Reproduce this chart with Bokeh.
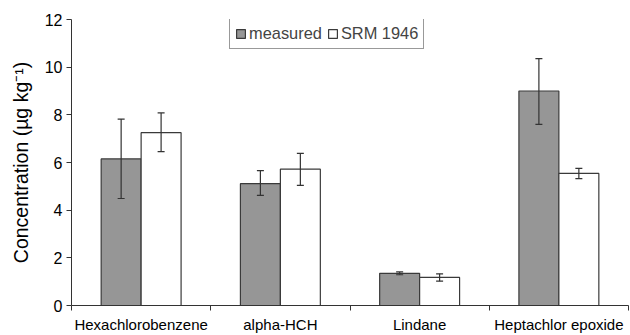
import numpy as np
from bokeh.plotting import figure
from bokeh.models import (ColumnDataSource, Range1d, FixedTicker, Whisker, TeeHead,
                          Legend, LegendItem)
from bokeh.embed import file_html
from bokeh.resources import INLINE

categories = ["Hexachlorobenzene", "alpha-HCH", "Lindane", "Heptachlor epoxide"]
measured = [6.15, 5.11, 1.35, 9.0]
measured_lo = [4.49, 4.62, 1.29, 7.6]
measured_hi = [7.82, 5.66, 1.41, 10.36]
srm = [7.25, 5.72, 1.18, 5.54]
srm_lo = [6.46, 5.04, 1.02, 5.32]
srm_hi = [8.08, 6.38, 1.33, 5.75]
y_ticks = [0, 2, 4, 6, 8, 10, 12]

FONT = "Liberation Sans"
idx = np.arange(len(categories)) + 0.5
bw = 0.287

src_m = ColumnDataSource(dict(x=idx - bw / 2, top=measured, lo=measured_lo, hi=measured_hi))
src_s = ColumnDataSource(dict(x=idx + bw / 2, top=srm, lo=srm_lo, hi=srm_hi))

p = figure(width=630, height=335, output_backend="svg", toolbar_location=None,
           x_range=Range1d(0, len(categories)), y_range=Range1d(0, 12),
           min_border_left=71, min_border_right=2, min_border_top=19, min_border_bottom=28)
p.outline_line_color = None
p.grid.visible = False
p.background_fill_color = "white"

r_m = p.vbar(x="x", top="top", width=bw, source=src_m, fill_color="#969696",
             line_color="#3a3a3a", line_width=1.2)
r_s = p.vbar(x="x", top="top", width=bw, source=src_s, fill_color="white",
             line_color="#3a3a3a", line_width=1.2)

for s in (src_m, src_s):
    w = Whisker(base="x", lower="lo", upper="hi", source=s, line_color="#333333",
                line_width=1.2, level="overlay",
                upper_head=TeeHead(size=7, line_color="#333333", line_width=1.2),
                lower_head=TeeHead(size=7, line_color="#333333", line_width=1.2))
    p.add_layout(w)

# x axis: labels at category centres, ticks at boundaries
xa = p.xaxis[0]
xa.ticker = FixedTicker(ticks=list(idx), minor_ticks=list(range(len(categories) + 1)))
xa.major_label_overrides = {float(v): c for v, c in zip(idx, categories)}
xa.major_tick_out = 0
xa.major_tick_in = 0
xa.minor_tick_out = 5
xa.minor_tick_in = 0
xa.minor_tick_line_color = "#333333"
xa.axis_line_color = "#333333"
xa.major_label_text_font = FONT
xa.major_label_text_font_size = "15px"
xa.major_label_text_color = "black"
xa.major_label_standoff = 5

ya = p.yaxis[0]
ya.ticker = FixedTicker(ticks=y_ticks, minor_ticks=[])
ya.major_tick_out = 5
ya.major_tick_in = 0
ya.major_tick_line_color = "#333333"
ya.axis_line_color = "#333333"
ya.major_label_text_font = FONT
ya.major_label_text_font_size = "16px"
ya.major_label_text_color = "black"
ya.major_label_standoff = 4
ya.axis_label = "Concentration (µg kg⁻¹)"
ya.axis_label_text_font = FONT
ya.axis_label_text_font_size = "19.5px"
ya.axis_label_text_font_style = "normal"
ya.axis_label_text_color = "black"
ya.axis_label_standoff = 10

legend = Legend(items=[LegendItem(label="measured", renderers=[r_m]),
                       LegendItem(label="SRM 1946", renderers=[r_s])],
                orientation="horizontal", location=(158, 256),
                glyph_width=11, glyph_height=11, label_text_font=FONT,
                label_text_font_size="16.4px", label_standoff=3, spacing=5,
                padding=5, margin=0, border_line_color="#333333",
                border_line_width=1.2, label_height=17)
p.add_layout(legend, "center")

open("out.html", "w").write(file_html(p, INLINE))
